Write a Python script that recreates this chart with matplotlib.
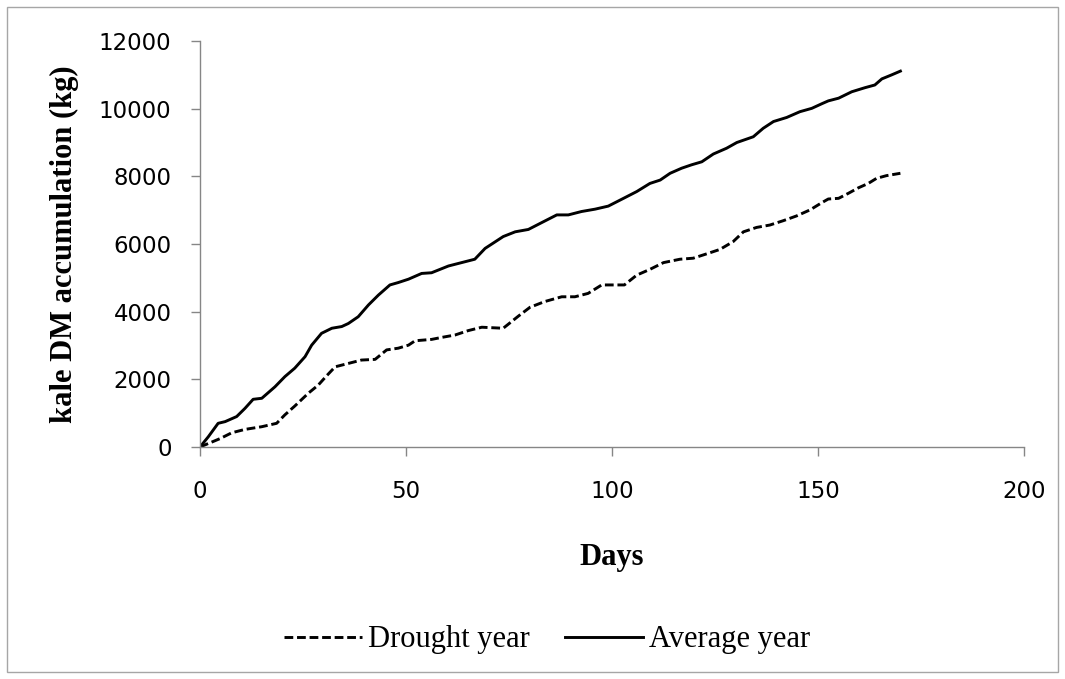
import matplotlib
matplotlib.use("Agg")
import matplotlib.pyplot as plt
from matplotlib.patches import Rectangle

# (days, kg)
drought_days = [0, 4.9, 7.7, 10.9, 15, 18.6, 20.6, 23, 26.3, 28.7, 30.7, 32.8,
                36, 39.2, 42.5, 45.3, 48.1, 50.6, 52.2, 56.2, 58.7, 61.9, 65.1,
                68.4, 73.6, 77.3, 80.1, 83.7, 87.8, 91, 94.2, 97.5, 101.1, 103,
                106, 109.2, 112.5, 116.5, 119.7, 123, 126.2, 129.4, 131.9, 135.1,
                138.3, 141.6, 144.8, 148.1, 150.9, 152.5, 155, 157.4, 159.8,
                162.2, 164.2, 166.6, 170]
drought_kg = [0, 250, 420, 520, 600, 700, 950, 1210, 1590, 1830, 2100, 2370,
              2470, 2570, 2590, 2870, 2920, 3010, 3140, 3180, 3240, 3310, 3440,
              3540, 3510, 3870, 4130, 4300, 4440, 4440, 4540, 4790, 4790, 4790,
              5080, 5250, 5450, 5550, 5580, 5710, 5840, 6070, 6360, 6490,
              6560, 6690, 6830, 7010, 7220, 7330, 7350, 7500, 7660,
              7790, 7940, 8020, 8090]

average_days = [0, 2, 4.4, 6.1, 8.9, 10.9, 12.9, 15, 18.2, 20.6, 23, 25.5,
                27.1, 29.5, 32, 34.4, 36, 38.4, 40.9, 43.3, 46.1, 48.1, 50.6,
                53.8, 56.2, 60.3, 63.5, 66.7, 69.2, 73.6, 76.5, 79.7, 82.9,
                86.6, 89.4, 92.6, 95.9, 99.1, 102.8, 106, 109.2, 111.7, 114.1,
                116.9, 119.3, 121.8, 124.6, 127.8, 130.3, 134.3, 136.7, 139.2,
                142.4, 145.6, 148.5, 151, 152.5, 155, 158.2, 161.4, 163.8,
                165.5, 167.9, 170]
average_kg = [0, 300, 700, 750, 900, 1140, 1410, 1440, 1780, 2080, 2330, 2670,
              3010, 3360, 3510, 3560, 3650, 3850, 4200, 4490, 4790, 4860, 4960,
              5130, 5150, 5350, 5450, 5550, 5870, 6220, 6360, 6430, 6630,
              6860, 6860, 6960, 7030, 7120, 7350, 7550, 7790, 7890, 8090,
              8240, 8340, 8430, 8660, 8830, 9000, 9170, 9420, 9620,
              9740, 9910, 10010, 10150, 10230, 10310, 10500, 10620, 10700,
              10880, 11000, 11110]

x_ticks = [0, 50, 100, 150, 200]
y_ticks = [0, 2000, 4000, 6000, 8000, 10000, 12000]

SERIF = "Liberation Serif"
SANS = "DejaVu Sans"
GREY = "#868686"


def main():
    fig = plt.figure(figsize=(10.65, 6.79), dpi=100)
    fig.patches.append(Rectangle((7 / 1065, 7 / 679), 1 - 14 / 1065, 1 - 14 / 679,
                                 transform=fig.transFigure, fill=False,
                                 edgecolor="#a6a6a6", linewidth=1))
    ax = fig.add_axes([200 / 1065, 1 - 447 / 679, 824 / 1065, 406 / 679])

    ax.plot(drought_days, drought_kg, color="black", lw=2.1,
            dashes=(3, 1.3), label="Drought year")
    ax.plot(average_days, average_kg, color="black", lw=2.1,
            label="Average year")

    ax.set_xlim(0, 200)
    ax.set_ylim(0, 12000)
    ax.set_xticks(x_ticks)
    ax.set_yticks(y_ticks)
    ax.set_xticklabels([str(t) for t in x_ticks], family=SANS, fontsize=16.5)
    ax.set_yticklabels([str(t) for t in y_ticks], family=SANS, fontsize=16.5)
    ax.tick_params(axis="both", direction="out", length=6.5, width=1, color=GREY)
    ax.tick_params(axis="x", pad=17)
    ax.tick_params(axis="y", pad=14)

    for side in ["top", "right"]:
        ax.spines[side].set_visible(False)
    for side in ["left", "bottom"]:
        ax.spines[side].set_color(GREY)
        ax.spines[side].set_linewidth(1)

    ax.set_xlabel("Days", family=SERIF, fontweight="bold", fontsize=22, va="center")
    ax.xaxis.set_label_coords(0.5, (447 - 558) / 406)
    ax.set_ylabel("kale DM accumulation (kg)", family=SERIF, fontweight="bold",
                  fontsize=22, va="center")
    ax.yaxis.set_label_coords((64 - 200) / 824, 0.5)

    handles, labels = ax.get_legend_handles_labels()
    fig.legend(handles, labels, loc="center", ncol=2, frameon=False,
               bbox_to_anchor=(547 / 1065, 1 - 640 / 679),
               prop={"family": SERIF, "size": 22},
               handlelength=2.55, handletextpad=0.2, columnspacing=1.15,
               borderpad=0)

    fig.savefig("out.png", dpi=100)


if __name__ == "__main__":
    main()
